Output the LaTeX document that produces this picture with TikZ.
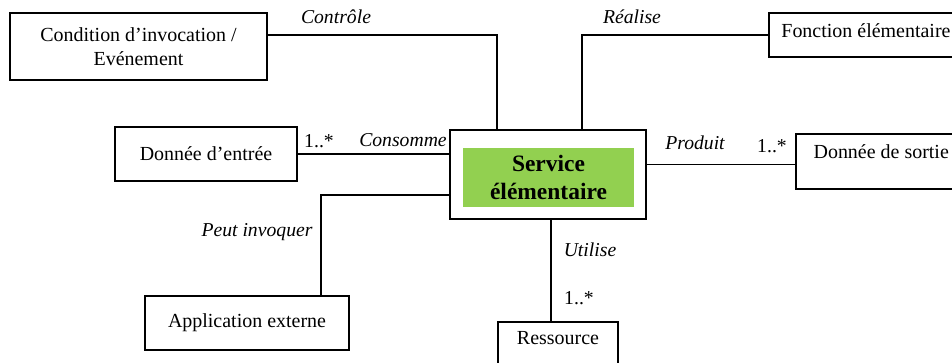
\documentclass[tikz,border=0pt]{standalone}
\usepackage{fontspec}
\setmainfont{Liberation Serif}
\usetikzlibrary{positioning}

\definecolor{vertservice}{HTML}{92D050}

\tikzset{
  boite/.style={draw, thick, inner sep=0pt, align=center, font=\fontsize{14.2}{17.5}\selectfont},
  texte/.style={font=\fontsize{14.2}{17}\selectfont},
  role/.style={font=\itshape\fontsize{14}{17}\selectfont},
  mult/.style={font=\fontsize{14}{17}\selectfont},
  lien/.style={thick}
}

\begin{document}
\begin{tikzpicture}
  \clip (0,0) rectangle (23.8,-9.05);

  % classes autour du service
  \node[boite, minimum width=6.425cm, minimum height=1.675cm] (cond) at (3.4625,-1.1625)
    {Condition d’invocation /\\ Evénement};
  \node[boite, minimum width=4.9cm, minimum height=1.1cm] (fonc) at (21.675,-0.875) {};
  \node[texte, anchor=west] at ([xshift=0.2cm,yshift=0.1cm]fonc.west) {Fonction élémentaire};
  \node[boite, minimum width=4.55cm, minimum height=1.35cm] (entree) at (5.15,-3.85) {Donnée d’entrée};
  \node[boite, minimum width=4.225cm, minimum height=1.375cm] (sortie) at (22.0125,-4.0375) {};
  \node[texte, anchor=west] at ([xshift=0.33cm,yshift=0.24cm]sortie.west) {Donnée de sortie};
  \node[boite, minimum width=5.1cm, minimum height=1.35cm] (appli) at (6.175,-8.075) {Application externe};
  \node[boite, minimum width=3cm, minimum height=1.25cm] (ress) at (13.95,-8.675) {};
  \node[texte] at (13.95,-8.45) {Ressource};

  % le service elementaire
  \node[draw, thick, fill=white, minimum width=4.9cm, minimum height=2.225cm] (serv) at (13.7,-4.3625) {};
  \node[fill=vertservice, minimum width=4.275cm, minimum height=1.475cm, align=center,
        font=\bfseries\fontsize{16.7}{19.5}\selectfont] (nom) at (13.7125,-4.4375)
    {Service\\ élémentaire};

  % associations
  \draw[lien] ([yshift=0.2875cm]cond.east) -| ([xshift=-1.275cm]serv.north);
  \draw[lien] ([xshift=0.85cm]serv.north) |- (fonc.west);
  \draw[lien] (entree.east) -- (entree.east -| serv.west);
  \draw[lien] ([yshift=-0.075cm]sortie.west) -- ([yshift=-0.075cm]sortie.west -| serv.east);
  \draw[lien] ([yshift=-0.5125cm]serv.west) -| ([xshift=1.85cm]appli.north);
  \draw[lien] ([xshift=0.075cm]serv.south) -- ([xshift=0.075cm]serv.south |- ress.north);

  % roles et multiplicites
  \node[role] at (8.4,-0.425) {Contrôle};
  \node[role] at (15.8,-0.425) {Réalise};
  \node[mult] at (7.975,-3.525) {1..*};
  \node[role] at (10.075,-3.5) {Consomme};
  \node[role] at (17.375,-3.575) {Produit};
  \node[mult] at (19.3,-3.65) {1..*};
  \node[role] at (6.425,-5.8) {Peut invoquer};
  \node[role] at (14.75,-6.25) {Utilise};
  \node[mult] at (14.475,-7.45) {1..*};
\end{tikzpicture}
\end{document}
